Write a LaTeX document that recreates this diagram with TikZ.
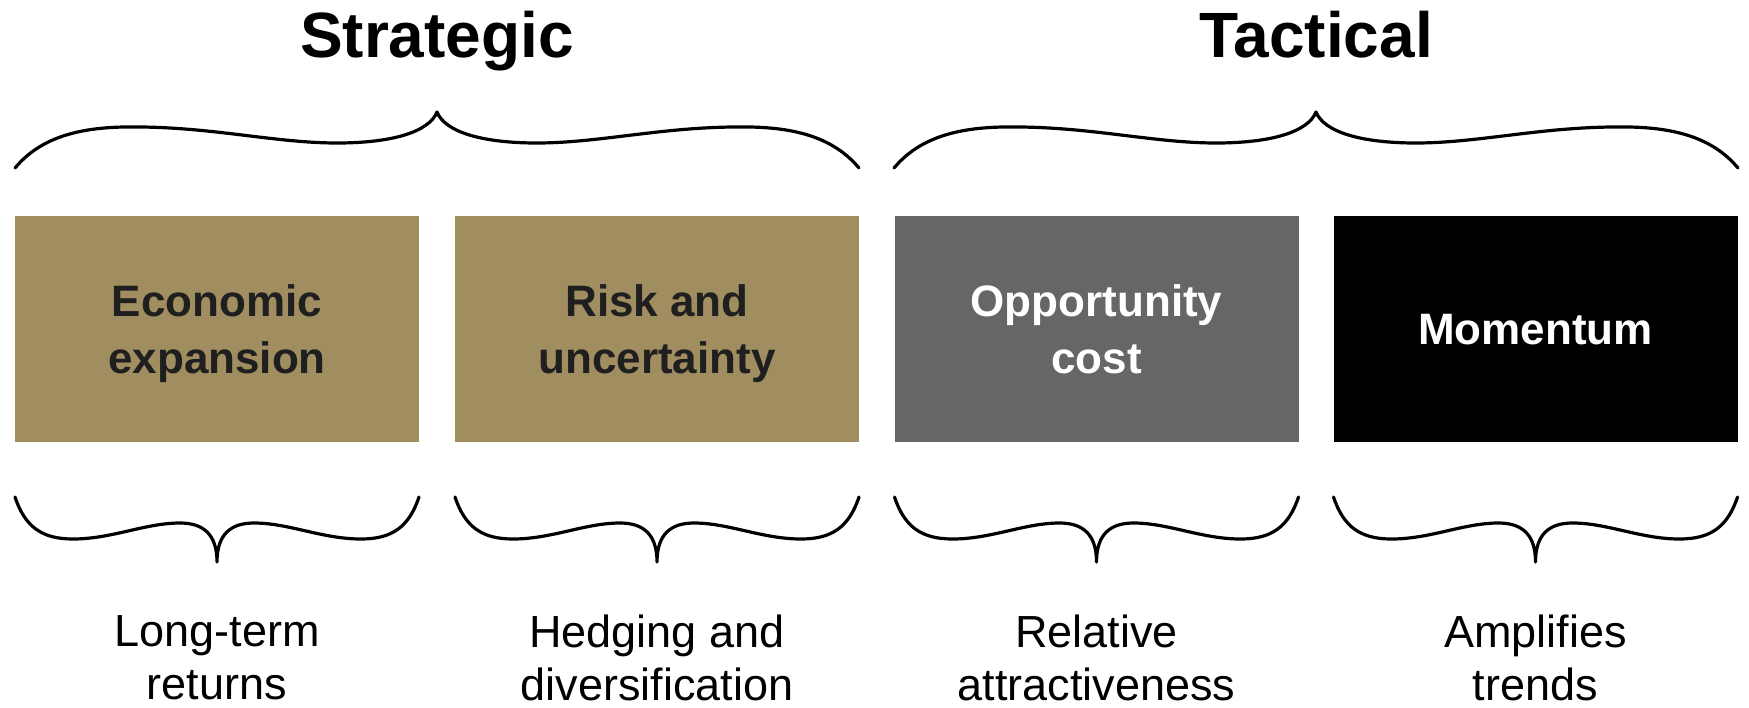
\documentclass[tikz,border=0pt]{standalone}
\usepackage{fontspec}
\setmainfont{Liberation Sans}
\definecolor{khaki}{RGB}{160,141,96}
\definecolor{slate}{RGB}{102,102,102}

\begin{document}
\begin{tikzpicture}[x=0.5pt, y=-0.5pt,
    block/.style ={rectangle, minimum width=202pt, minimum height=113pt, inner sep=0pt, align=center,
                   text depth=-5pt, font=\fontsize{22}{28.5}\selectfont\bfseries},
    heading/.style ={anchor=base, font=\fontsize{32}{38}\selectfont\bfseries},
    outcome/.style ={align=center, font=\fontsize{22.5}{26.5}\selectfont},
    bracestroke/.style ={line width=1.6pt, line cap=round, line join=round},
    topbrace/.pic ={\draw[bracestroke] (-422,56) .. controls (-392,20) and (-345,14) .. (-295,15)
        .. controls (-220,16) and (-160,31) .. (-100,31) .. controls (-45,31) and (-8,20) .. (0,0)
        .. controls (8,20) and (45,31) .. (100,31) .. controls (160,31) and (220,16) .. (295,15)
        .. controls (345,14) and (392,20) .. (422,56);},
    lowbrace/.pic ={\draw[bracestroke] (-202,-65) .. controls (-192,-35) and (-175,-23) .. (-144,-23)
        .. controls (-105,-23) and (-72,-39) .. (-37,-39) .. controls (-14,-39) and (0,-28) .. (0,0)
        .. controls (0,-28) and (14,-39) .. (37,-39) .. controls (72,-39) and (105,-23) .. (144,-23)
        .. controls (175,-23) and (192,-35) .. (202,-65);}]
   \useasboundingbox (0,0) rectangle (1749,707);

   \node[heading] (strategic) at (437,57)  {Strategic};
   \node[heading] (tactical)  at (1316,57) {Tactical};

   \pic at (437,112)  {topbrace};
   \pic at (1316,112) {topbrace};

   \node[block, fill=khaki, text=black!88] (economic) at (217,329)    {Economic\\expansion};
   \node[block, fill=khaki, text=black!88] (risk)     at (657,329)    {Risk and\\uncertainty};
   \node[block, fill=slate, text=white]    (opportunity) at (1096.5,329) {Opportunity\\cost};
   \node[block, fill=black, text=white]    (momentum) at (1535.5,329) {Momentum};

   \foreach \x in {217,657,1096.5,1535.5}
     \pic at (\x,562) {lowbrace};

   \node[outcome] (returns)   at (217,658)    {Long-term\\returns};
   \node[outcome] (hedging)   at (657,658)    {Hedging and\\diversification};
   \node[outcome] (relative)  at (1096.5,658) {Relative\\attractiveness};
   \node[outcome] (amplifies) at (1535.5,658) {Amplifies\\trends};
 \end{tikzpicture}
\end{document}
